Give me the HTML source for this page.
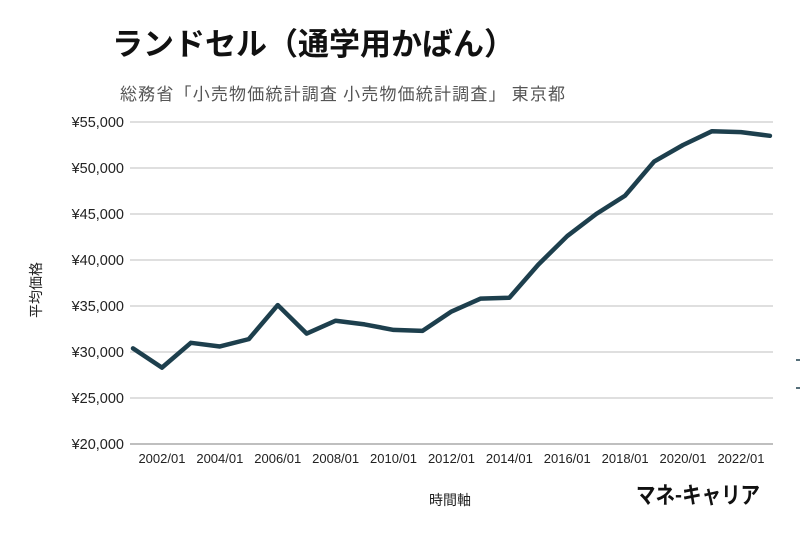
<!DOCTYPE html>
<html><head><meta charset="utf-8"><style>
body{margin:0;background:#fff;width:800px;height:529px;overflow:hidden;font-family:"Liberation Sans","Noto Sans CJK JP",sans-serif}
</style></head><body>
<svg id="c" width="800" height="529" xmlns="http://www.w3.org/2000/svg">
<text x="112" y="55" font-size="31" font-weight="bold" fill="#111" font-family="Noto Sans CJK JP, sans-serif">ランドセル（通学用かばん）</text>
<text x="120" y="100" font-size="17" fill="#555" font-family="Noto Sans CJK JP, sans-serif" textLength="445">総務省「小売物価統計調査 小売物価統計調査」 東京都</text>
<text x="0" y="0" font-size="14" fill="#222" font-family="Noto Sans CJK JP, sans-serif" transform="translate(41,290) rotate(-90)" text-anchor="middle">平均価格</text>
<text x="450" y="505" font-size="14" fill="#222" font-family="Noto Sans CJK JP, sans-serif" text-anchor="middle">時間軸</text>
<text x="636" y="503" font-size="23" font-weight="bold" fill="#111" font-family="Noto Sans CJK JP, sans-serif" textLength="124" lengthAdjust="spacingAndGlyphs">マネ-キャリア</text>
<line x1="796" y1="360" x2="800" y2="360" stroke="#1d3f4d" stroke-width="1.5"/>
<line x1="796" y1="388" x2="800" y2="388" stroke="#1d3f4d" stroke-width="1.5"/>
<g id="grid"></g><g id="ticks"></g>
<path id="line" fill="none" stroke="#1d3f4d" stroke-width="4.5" stroke-linejoin="round" stroke-linecap="round"/>
</svg>
<script>
const years=[2001,2002,2003,2004,2005,2006,2007,2008,2009,2010,2011,2012,2013,2014,2015,2016,2017,2018,2019,2020,2021,2022,2023];
const prices=[30400,28300,31000,30600,31400,35100,32000,33400,33000,32400,32300,34400,35800,35900,39500,42600,45000,47000,50700,52500,54000,53900,53500];
const yTicks=[20000,25000,30000,35000,40000,45000,50000,55000];
const xTickYears=[2002,2004,2006,2008,2010,2012,2014,2016,2018,2020,2022];
const ns="http://www.w3.org/2000/svg";
const X=y=>133+(y-2001)*28.95;
const Y=v=>444-(v-20000)*322/35000;
const grid=document.getElementById('grid'),ticks=document.getElementById('ticks');
yTicks.forEach(v=>{
 const l=document.createElementNS(ns,'line');
 l.setAttribute('x1',130);l.setAttribute('x2',773);l.setAttribute('y1',Y(v));l.setAttribute('y2',Y(v));
 l.setAttribute('stroke',v===20000?'#999':'#ccc');l.setAttribute('stroke-width',1.3);
 
 
 grid.appendChild(l);
 const t=document.createElementNS(ns,'text');
 t.setAttribute('x',124);t.setAttribute('y',Y(v)+5);t.setAttribute('text-anchor','end');t.setAttribute('font-size',14.5);t.setAttribute('fill','#222');
 t.textContent='¥'+v.toLocaleString('en-US');
 
 
 ticks.appendChild(t);
});
xTickYears.forEach(y=>{
 const t=document.createElementNS(ns,'text');
 t.setAttribute('x',X(y));t.setAttribute('y',463);t.setAttribute('text-anchor','middle');t.setAttribute('font-size',13);t.setAttribute('fill','#222');
 t.textContent=y+'/01';
 
 
 ticks.appendChild(t);
});
document.getElementById('line').setAttribute('d',prices.map((p,i)=>(i?'L':'M')+X(years[i])+','+Y(p)).join(''));
</script>
</body></html>
